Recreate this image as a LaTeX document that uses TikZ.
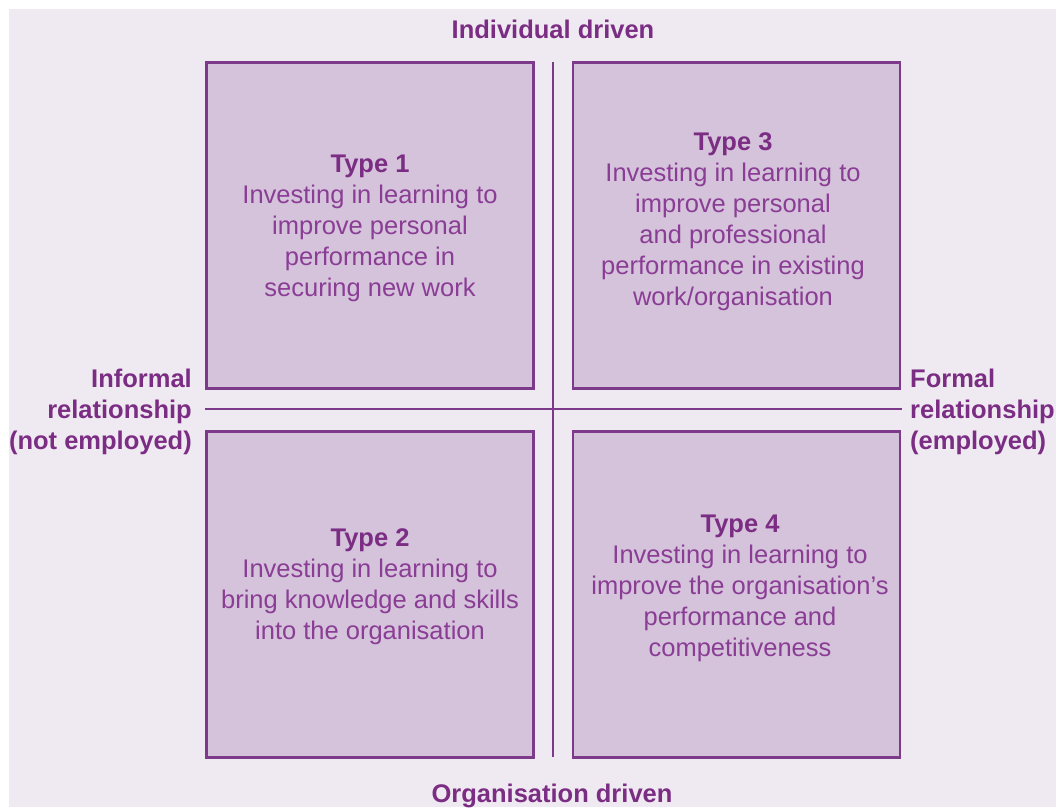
\documentclass[tikz,border=0pt]{standalone}
\usepackage{fontspec}
\setmainfont{Liberation Sans}
\definecolor{bgpurple}{HTML}{EFE9F1}
\definecolor{boxfill}{HTML}{D5C2DB}
\definecolor{boxline}{HTML}{7D3A8A}
\definecolor{headtext}{HTML}{7B2D84}
\definecolor{bodytext}{HTML}{8A3D94}
\begin{document}
\begin{tikzpicture}[x=1pt,y=-1pt,
  quadbox/.style={draw=boxline,fill=boxfill,line width=2.4pt,minimum width=327pt,minimum height=326pt,inner sep=0pt},
  quadtext/.style={align=center,text=bodytext,font=\fontsize{25.5}{31}\selectfont,inner sep=0pt},
  axislabel/.style={text=headtext,font=\fontsize{25.5}{31}\selectfont\bfseries,inner sep=0pt},
  axisline/.style={draw=boxline,line width=2.8pt}]
  \useasboundingbox (0,0) rectangle (1056,807);
  \fill[bgpurple] (9,9) rectangle (1056,807);

  % quadrants
  \node[quadbox] (q1) at (370,225.5) {};
  \node[quadbox] (q3) at (736.5,225.5) {};
  \node[quadbox] (q2) at (370,594.5) {};
  \node[quadbox] (q4) at (736.5,594.5) {};

  % axes
  \coordinate (vtop) at (553,62);
  \coordinate (vbot) at (553,757);
  \coordinate (hleft) at (205,409);
  \coordinate (hright) at (902,409);
  \draw[axisline] (vtop) -- (vbot);
  \draw[axisline] (hleft) -- (hright);

  % axis labels
  \node[axislabel] (top) at (553,29) {Individual driven};
  \node[axislabel] (bottom) at (552,796) {Organisation driven};
  \node[axislabel,align=right,anchor=east] (left) at (192,412) {Informal\\relationship\\(not employed)};
  \node[axislabel,align=left,anchor=west] (right) at (910,412) {Formal\\relationship\\(employed)};

  % quadrant texts
  \node[quadtext] (t1) at (370,228.5) {{\color{headtext}\bfseries Type 1}\\Investing in learning to\\improve personal\\performance in\\securing new work};
  \node[quadtext] (t3) at (733,221.5) {{\color{headtext}\bfseries Type 3}\\Investing in learning to\\improve personal\\and professional\\performance in existing\\work/organisation};
  \node[quadtext] (t2) at (370,586.5) {{\color{headtext}\bfseries Type 2}\\Investing in learning to\\bring knowledge and skills\\into the organisation};
  \node[quadtext] (t4) at (740,588) {{\color{headtext}\bfseries Type 4}\\Investing in learning to\\improve the organisation’s\\performance and\\competitiveness};
\end{tikzpicture}
\end{document}
